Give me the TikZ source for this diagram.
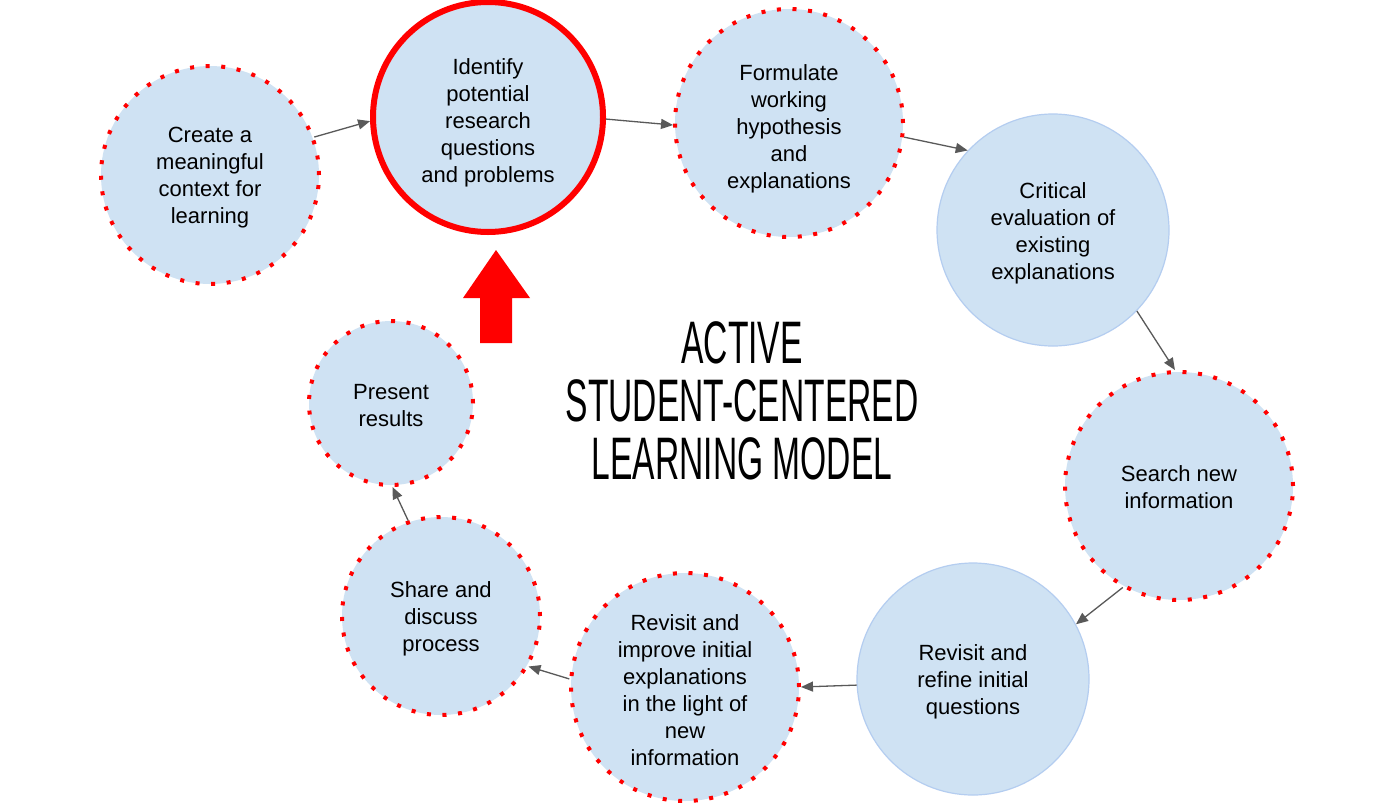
\documentclass[tikz,border=0pt]{standalone}
\usepackage{fontspec}
\setmainfont{Liberation Sans}
\newfontfamily\titlefont[FakeStretch=0.56]{Liberation Sans}
\usetikzlibrary{arrows.meta}
\definecolor{bubble}{HTML}{CFE2F3}
\definecolor{bubbleedge}{HTML}{B4CDF0}
\definecolor{linkgray}{HTML}{595959}
\definecolor{alertred}{HTML}{FF0000}

\begin{document}
\begin{tikzpicture}[x=0.5pt,y=-0.5pt,
  stage/.style={circle, fill=bubble, inner sep=0pt},
  stagetext/.style={align=center, font=\fontsize{11}{13.5}\selectfont,
    text=black, inner sep=0pt, yshift=-1.5pt},
  dotring/.style={stage, draw=alertred, line width=2pt, dash pattern=on 2pt off 5.8pt},
  plainring/.style={stage, draw=bubbleedge, line width=0.6pt},
  focusring/.style={stage, draw=alertred, line width=3pt},
  link/.style={draw=linkgray, line width=0.65pt, -{Triangle[length=6pt,width=5pt]}},
  heading/.style={font=\titlefont\fontsize{30}{29}\selectfont, align=center, text=black}
]
\fill[white] (0,0) rectangle (1400,809);
\useasboundingbox (0,0) rectangle (1400,809);

% stages of the cycle
\node[dotring, minimum size=109pt,
  label={[stagetext]center:{Create a\\meaningful\\context for\\learning}}] (c1) at (210,175) {};
\node[focusring, minimum size=115pt,
  label={[stagetext, yshift=-1.5pt]center:{Identify\\potential\\research\\questions\\and problems}}] (c2) at (488,117) {};
\node[dotring, minimum size=114pt,
  label={[stagetext, yshift=-1.5pt]center:{Formulate\\working\\hypothesis\\and\\explanations}}] (c3) at (789,123) {};
\node[plainring, minimum size=116pt,
  label={[stagetext]center:{Critical\\evaluation of\\existing\\explanations}}] (c4) at (1053,230) {};
\node[dotring, minimum size=114pt,
  label={[stagetext, yshift=1pt]center:{Search new\\information}}] (c5) at (1179,486) {};
\node[plainring, minimum size=116pt,
  label={[stagetext]center:{Revisit and\\refine initial\\questions}}] (c6) at (973,679) {};
\node[dotring, minimum size=114pt,
  label={[stagetext]center:{Revisit and\\improve initial\\explanations\\in the light of\\new\\information}}] (c7) at (685,687) {};
\node[dotring, minimum size=99pt,
  label={[stagetext]center:{Share and\\discuss\\process}}] (c8) at (441,616) {};
\node[dotring, minimum size=82pt,
  label={[stagetext]center:{Present\\results}}] (c9) at (391,403) {};

% connectors
\draw[link] (c1.20)  -- (c2.182);
\draw[link] (c2.-1)  -- (c3.181);
\draw[link] (c3.-7)  -- (c4.137);
\draw[link] (c4.-44) -- (c5.92);
\draw[link] (c5.241) -- (c6.28);
\draw[link] (c6.183) -- (c7.0);
\draw[link] (c7.176) -- (c8.-30);
\draw[link] (c8.109) -- (c9.271);

% block arrow pointing back to the start of the cycle
\fill[alertred] (480,343) -- (480,298) -- (463,298) -- (496,250) -- (530,298)
  -- (512,298) -- (512,343) -- cycle;

% title
\node[heading] (title) at (742,401) {ACTIVE\\STUDENT-CENTERED\\LEARNING MODEL};
\end{tikzpicture}
\end{document}
